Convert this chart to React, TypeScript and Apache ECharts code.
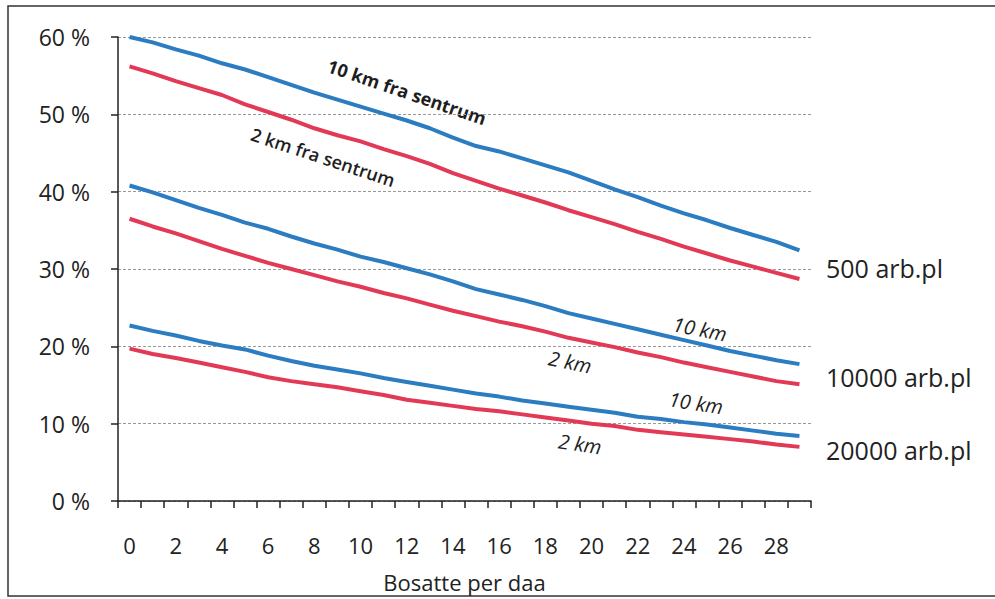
import React, { useEffect, useRef } from "react";
import * as echarts from "echarts";

const categories = Array.from({ length: 30 }, (_, i) => String(i));

const blue500 = [60.0, 59.3, 58.4, 57.6, 56.6, 55.8, 54.8, 53.8, 52.8, 51.9, 51.0, 50.1, 49.2, 48.2, 47.0, 45.9, 45.2, 44.3, 43.4, 42.5, 41.4, 40.3, 39.3, 38.2, 37.2, 36.3, 35.3, 34.4, 33.5, 32.4];
const red500 = [56.2, 55.3, 54.3, 53.4, 52.5, 51.3, 50.3, 49.3, 48.2, 47.3, 46.5, 45.5, 44.6, 43.6, 42.4, 41.4, 40.4, 39.5, 38.6, 37.6, 36.7, 35.8, 34.8, 33.9, 32.9, 32.0, 31.1, 30.3, 29.5, 28.7];
const blue10000 = [40.8, 39.9, 38.9, 37.9, 37.0, 36.0, 35.2, 34.2, 33.3, 32.5, 31.6, 30.9, 30.1, 29.3, 28.4, 27.4, 26.7, 26.0, 25.2, 24.3, 23.6, 22.9, 22.2, 21.5, 20.8, 20.1, 19.4, 18.8, 18.2, 17.7];
const red10000 = [36.5, 35.5, 34.6, 33.6, 32.6, 31.7, 30.8, 30.0, 29.2, 28.4, 27.7, 26.9, 26.2, 25.4, 24.6, 23.9, 23.2, 22.6, 21.9, 21.1, 20.5, 19.9, 19.2, 18.6, 17.9, 17.3, 16.7, 16.1, 15.5, 15.1];
const blue20000 = [22.7, 22.0, 21.4, 20.7, 20.1, 19.6, 18.8, 18.1, 17.5, 17.0, 16.5, 15.9, 15.4, 14.9, 14.4, 13.9, 13.5, 13.0, 12.6, 12.2, 11.8, 11.4, 10.9, 10.6, 10.2, 9.9, 9.5, 9.1, 8.7, 8.4];
const red20000 = [19.7, 19.0, 18.5, 17.9, 17.3, 16.7, 16.0, 15.5, 15.1, 14.7, 14.2, 13.7, 13.1, 12.7, 12.3, 11.9, 11.6, 11.2, 10.8, 10.4, 10.0, 9.7, 9.2, 8.9, 8.6, 8.3, 8.0, 7.7, 7.3, 7.0];

const groupLabels = ["500 arb.pl", "10000 arb.pl", "20000 arb.pl"];
const xAxisName = "Bosatte per daa";

const BLUE = "#2b7cc1";
const RED = "#e23a56";
const FONT = "'Open Sans', sans-serif";

export default function App() {
  const ref = useRef<HTMLDivElement>(null);
  useEffect(() => {
    if (!ref.current) return;
    const chart = echarts.init(ref.current, undefined, { renderer: "svg" });
    const mk = (data: number[], color: string) => ({
      type: "line",
      data,
      symbol: "none",
      smooth: false,
      lineStyle: { color, width: 4 },
      itemStyle: { color },
      z: 3,
    });
    const lbl = (text: string, x: number, y: number, rotation: number, size: number, extra: any = {}) => ({
      type: "text",
      x,
      y,
      rotation,
      style: { text, fontFamily: FONT, fontSize: size, fill: "#1e1e22", align: "center", verticalAlign: "middle", ...extra },
    });
    chart.setOption({
      animation: false,
      backgroundColor: "#fff",
      grid: { left: 118, top: 37, right: 184, bottom: 98, containLabel: false },
      xAxis: {
        type: "category",
        data: categories,
        boundaryGap: true,
        name: xAxisName,
        nameLocation: "middle",
        nameGap: 70,
        nameTextStyle: { fontFamily: FONT, fontSize: 22, color: "#222" },
        axisLine: { lineStyle: { color: "#222", width: 1.5 } },
        axisTick: { show: true, interval: 0, length: 7, lineStyle: { color: "#222", width: 1.5 } },
        axisLabel: { interval: 1, fontFamily: FONT, fontSize: 22, color: "#222", margin: 33 },
        splitLine: { show: false },
      },
      yAxis: {
        type: "value",
        min: 0,
        max: 60,
        interval: 10,
        axisLine: { show: true, lineStyle: { color: "#222", width: 1.5 } },
        axisTick: { show: true, length: 7, lineStyle: { color: "#222", width: 1.5 } },
        axisLabel: { formatter: "{value} %", fontFamily: FONT, fontSize: 23, color: "#222", margin: 28 },
        splitLine: { show: true, lineStyle: { color: "#999", type: [3, 2], width: 1 } },
      },
      series: [
        mk(blue500, BLUE),
        mk(red500, RED),
        mk(blue10000, BLUE),
        mk(red10000, RED),
        mk(blue20000, BLUE),
        mk(red20000, RED),
      ],
      graphic: [
        {
          type: "rect",
          shape: { x: 8, y: 6, width: 1000, height: 590 },
          style: { fill: "none", stroke: "#333", lineWidth: 1.5 },
          silent: true,
          z: 0,
        },
        lbl("10 km fra sentrum", 407, 92, -0.33, 18, { fontWeight: "bold" }),
        lbl("2 km fra sentrum", 323, 157, -0.32, 18, { fontWeight: 600 }),
        lbl("10 km", 700, 329, -0.2, 20, { fontStyle: "italic" }),
        lbl("2 km", 570, 362, -0.2, 20, { fontStyle: "italic" }),
        lbl("10 km", 696, 403, -0.15, 20, { fontStyle: "italic" }),
        lbl("2 km", 580, 444, -0.15, 20, { fontStyle: "italic" }),
        lbl(groupLabels[0], 826, 268, 0, 25, { align: "left", fill: "#222" }),
        lbl(groupLabels[1], 826, 377, 0, 25, { align: "left", fill: "#222" }),
        lbl(groupLabels[2], 826, 450, 0, 25, { align: "left", fill: "#222" }),
      ],
    });
    return () => chart.dispose();
  }, []);
  return <div ref={ref} style={{ position: "absolute", left: 0, top: 0, width: 995, height: 599 }} />;
}
